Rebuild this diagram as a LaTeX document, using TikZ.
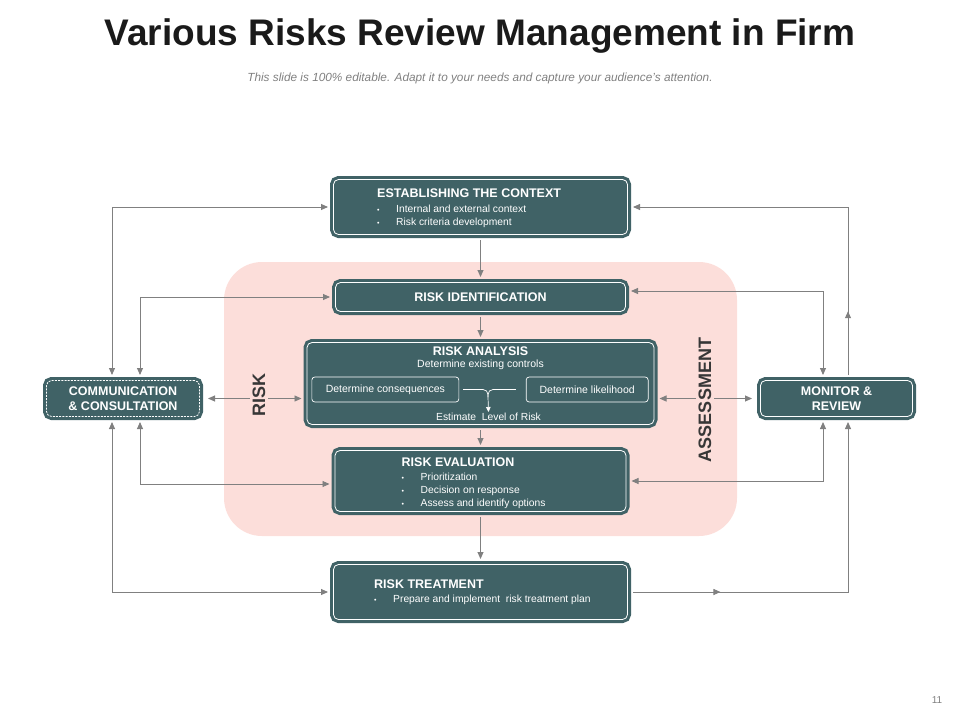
\documentclass[tikz,border=0pt]{standalone}
\usepackage{fontspec}
\setmainfont{Liberation Sans}
\usetikzlibrary{arrows.meta, positioning, decorations.markings}
\definecolor{slate}{RGB}{64,98,102}
\definecolor{blush}{RGB}{252,222,218}
\definecolor{wire}{RGB}{128,128,128}
\definecolor{ink}{RGB}{26,26,26}
\definecolor{darktext}{RGB}{55,55,55}
\tikzset{
    box/.style={fill=slate, draw=white, line width=0.8pt, rounded corners=5pt, outer sep=3.5pt, inner sep=0pt,
        preaction={draw=slate, line width=7pt, solid}, text=white, align=center, font=\fontsize{12.5}{15}\selectfont\bfseries},
    dashbox/.style={box, dash pattern=on 2pt off 1.2pt},
    subbox/.style={draw=white, line width=0.7pt, rounded corners=3pt, text=white, minimum height=25pt, inner sep=0pt, font=\fontsize{10.5}{12}\selectfont},
    bultext/.style={text=white, align=left, anchor=west, inner sep=0pt, font=\fontsize{10.3}{13}\selectfont},
    arrow/.style={->, >={Triangle[length=7pt,width=6pt]}, line width=0.9pt, wire, shorten >=2pt, shorten <=2pt},
    midarrow/.style={postaction={decorate}, decoration={markings, mark=at position #1 with {\arrow{>}}}},
    sidelabel/.style={rotate=90, font=\fontsize{18}{18}\selectfont\bfseries, text=darktext, fill=blush, inner sep=3pt},
    zone/.style={fill=blush, rounded corners=38pt, minimum width=513pt, minimum height=274pt}
}
\newcommand{\bul}{\makebox[19pt][l]{\fontsize{7}{7}\selectfont\textbullet}}
\newcommand{\hd}[1]{{\fontsize{12.5}{15}\selectfont\bfseries #1}}

\begin{document}
\begin{tikzpicture}[x=1pt, y=-1pt]
    \useasboundingbox (0,0) rectangle (960,720);

    % Title
    \node (title) at (480,36) {\fontsize{37}{40}\selectfont\bfseries\color{ink}Various Risks Review Management in Firm};
    \node (sub) at (480,78) {\fontsize{11.8}{13}\selectfont\itshape\color{wire}This slide is 100\% editable. Adapt it to your needs and capture your audience's attention.};
    \node (pgno) at (937,700) {\fontsize{10}{12}\selectfont\color{wire}11};

    % Assessment zone
    \node [zone] (zone) at (480.5,399) {};

    % Main column
    \node [box, minimum width=294pt, minimum height=55pt] (ctx) at (480.5,207) {};
    \node [box, minimum width=290pt, minimum height=29pt, below=41pt of ctx] (rid) {RISK IDENTIFICATION};
    \node [box, minimum width=347pt, minimum height=82pt, below=24pt of rid] (ana) {};
    \node [box, minimum width=291pt, minimum height=61pt, below=19pt of ana] (eva) {};
    \node [box, minimum width=294pt, minimum height=55pt, below=46pt of eva] (trt) {};

    % Box texts
    \node [bultext] (ctxtext) at ([xshift=47pt,yshift=-1pt]ctx.west) {\hd{ESTABLISHING THE CONTEXT}\\[1.5pt]
        \bul Internal and external context\\ \bul Risk criteria development};
    \node [bultext] (evatext) at ([xshift=70pt,yshift=-2pt]eva.west) {\hd{RISK EVALUATION}\\[0.5pt]
        \bul Prioritization\\ \bul Decision on response\\ \bul Assess and identify options};
    \node [bultext] (trttext) at ([xshift=44pt]trt.west) {\hd{RISK TREATMENT}\\[1.5pt]
        \bul Prepare and implement\ \ risk treatment plan};

    % Risk analysis inside
    \node [text=white, align=center, anchor=north, inner sep=0pt] (anatitle) at ([yshift=-8pt]ana.north)
        {\hd{RISK ANALYSIS}\\[-0.5pt] {\fontsize{10.5}{12}\selectfont Determine existing controls}};
    \node [subbox, minimum width=147pt, anchor=west] (cons) at ([xshift=8pt,yshift=-6pt]ana.west) {Determine consequences};
    \node [subbox, minimum width=122pt, anchor=east] (lik) at ([xshift=-9pt,yshift=-6pt]ana.east) {Determine likelihood};
    \node [text=white, inner sep=1pt, font=\fontsize{10.3}{12}\selectfont] (est) at ([xshift=8pt,yshift=-33.5pt]ana.center) {Estimate\ \ Level of Risk};
    \coordinate (mrg) at (488,397);
    \draw [white, line width=0.7pt, rounded corners=5pt] ([xshift=4pt]cons.east) -| (mrg);
    \draw [white, line width=0.7pt, rounded corners=5pt] ([xshift=-10pt]lik.west) -| (mrg);
    \draw [white, line width=0.7pt, ->, >={Triangle[length=5pt,width=4.5pt]}] (mrg) -- (est.north);

    % Side boxes
    \node [dashbox, minimum width=153pt, minimum height=36pt] (comm) at (123,398.5) {COMMUNICATION\\\& CONSULTATION};
    \node [box, minimum width=152pt, minimum height=36pt] (mon) at (836.5,398.5) {MONITOR \&\\REVIEW};

    % Column arrows
    \draw [arrow] (ctx.south) -- (rid.north);
    \draw [arrow] (rid.south) -- (ana.north);
    \draw [arrow] (ana.south) -- (eva.north);
    \draw [arrow] (eva.south) -- (trt.north);

    % Left loops
    \draw [arrow, <->] ([xshift=-11pt]comm.north) |- (ctx.west);
    \draw [arrow, <->] ([xshift=17pt]comm.north) |- (rid.west);
    \draw [arrow, <->] ([xshift=17pt]comm.south) |- ([yshift=-3pt]eva.west);
    \draw [arrow, <->] ([xshift=-11pt]comm.south) |- (trt.west);
    \draw [arrow, <->, shorten <=5pt] (comm.east) -- (comm.east -| ana.west);

    % Right loops
    \draw [arrow, midarrow=0.17] ([xshift=11.5pt]mon.north) |- (ctx.east);
    \draw [arrow, <->] ([xshift=-13.5pt]mon.north) |- ([yshift=6pt]rid.east);
    \draw [arrow, <->] ([xshift=-13.5pt]mon.south) |- (eva.east);
    \draw [arrow, midarrow=0.23] (trt.east) -| ([xshift=11.5pt]mon.south);
    \draw [arrow, <->, shorten >=5pt] (ana.east |- mon.west) -- (mon.west);

    % Zone labels
    \node [sidelabel] (risklbl) at (259,395) {RISK};
    \node [sidelabel] (asslbl) at (705,400) {ASSESSMENT};
\end{tikzpicture}
\end{document}
